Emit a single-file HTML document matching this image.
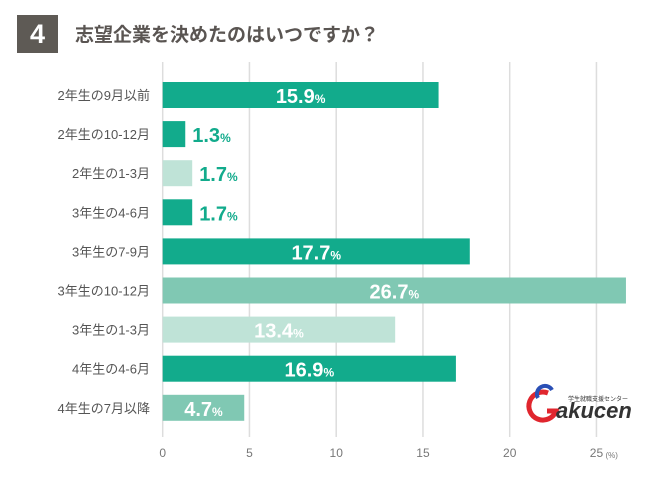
<!DOCTYPE html>
<html><head><meta charset="utf-8"><style>
body{margin:0;background:#fff;width:650px;height:483px;overflow:hidden;font-family:"Liberation Sans","Noto Sans CJK JP",sans-serif}
</style></head><body>
<svg id="c" width="650" height="483">
<rect x="17" y="15" width="41" height="38" fill="#5e5a55"/>
<text x="37.5" y="43" text-anchor="middle" font-size="27" font-weight="bold" fill="#fff">4</text>
<text x="75" y="41" font-size="19" font-weight="bold" fill="#5a5552">志望企業を決めたのはいつですか？</text>
<g id="grid"></g><g id="bars"></g>
<g>
<path d="M548 393 a14 14 0 1 0 8 18 l-9 0" fill="none" stroke="#e0262e" stroke-width="5"/>
<path d="M552 390 a8 8 0 0 0 -14 8" fill="none" stroke="#2a4fb5" stroke-width="4"/>
<text x="556" y="418" font-size="22" font-weight="bold" font-style="italic" fill="#333">akucen</text>
<text x="568" y="401" font-size="6" fill="#333">学生就職支援センター</text>
</g>
</svg>
<script>
const categories=["2年生の9月以前","2年生の10-12月","2年生の1-3月","3年生の4-6月","3年生の7-9月","3年生の10-12月","3年生の1-3月","4年生の4-6月","4年生の7月以降"];
const values=[15.9,1.3,1.7,1.7,17.7,26.7,13.4,16.9,4.7];
const shades=["d","d","l","d","d","m","l","d","m"];
const ticks=[0,5,10,15,20,25];
const col={d:"#12ab8c",m:"#80c8b3",l:"#bfe3d7"};
const NS="http://www.w3.org/2000/svg";
const x=v=>162.7+v*17.35;
const yc=i=>95+i*39.1;
function mk(t,a,p){const e=document.createElementNS(NS,t);for(const k in a)e.setAttribute(k,a[k]);p.appendChild(e);return e;}
const g=document.getElementById('grid'),b=document.getElementById('bars');
ticks.forEach(t=>{
 const l=mk('line',{x1:x(t),x2:x(t),y1:62,y2:437,stroke:'#dddddd','stroke-width':1.5},g);
 
 
 const tx=mk('text',{x:x(t),y:457,'text-anchor':'middle','font-size':12,fill:'#777'},g);
 tx.textContent=t;
 
 
});
const u=mk('text',{x:x(25)+9,y:458,'font-size':8,fill:'#777'},g);u.textContent='(%)';


categories.forEach((c,i)=>{
 const y=yc(i),v=values[i];
 const lb=mk('text',{x:150,y:y+5,'text-anchor':'end','font-size':13,fill:'#555'},b);lb.textContent=c;
 
 
 const r=mk('rect',{x:x(0),y:y-13,width:x(v)-x(0),height:26,fill:col[shades[i]]},b);
 
 
 const inside=(x(v)-x(0))>80;
 const t=mk('text',{x:inside?(x(0)+x(v))/2:x(v)+7,y:y+8,'text-anchor':inside?'middle':'start','font-size':20,'font-weight':'bold',fill:inside?'#fff':'#12ab8c'},b);
 t.innerHTML=v.toFixed(1)+'<tspan font-size="12">%</tspan>';
 
 
});
</script>
</body></html>
